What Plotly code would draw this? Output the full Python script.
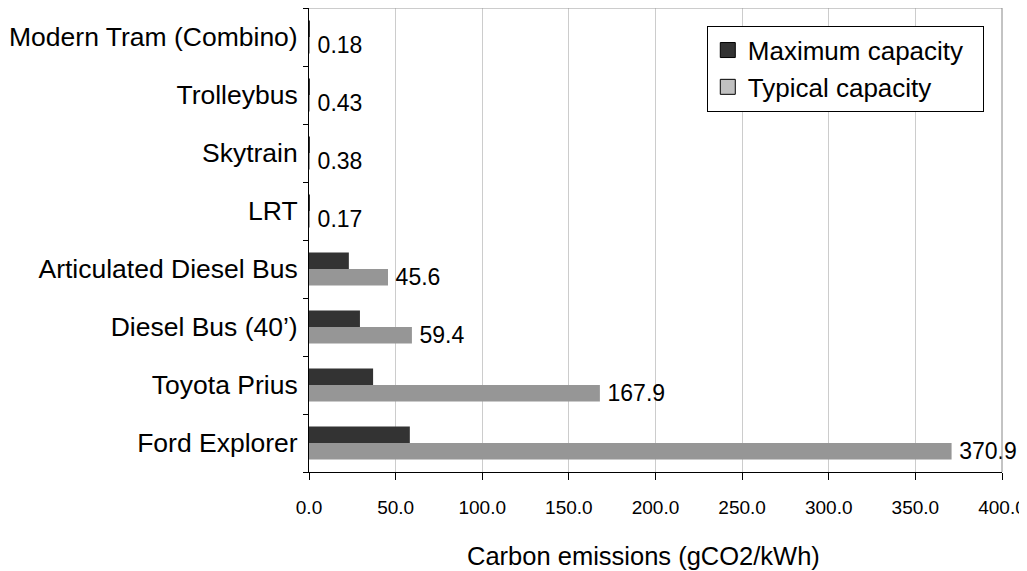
import plotly.graph_objects as go

# Categories listed top to bottom as in the chart
categories = [
    "Modern Tram (Combino)",
    "Trolleybus",
    "Skytrain",
    "LRT",
    "Articulated Diesel Bus",
    "Diesel Bus (40’)",
    "Toyota Prius",
    "Ford Explorer",
]
maximum_capacity = [0.05, 0.1, 0.09, 0.04, 23.0, 29.4, 37.0, 58.2]
typical_capacity = [0.18, 0.43, 0.38, 0.17, 45.6, 59.4, 167.9, 370.9]
x_ticks = [0, 50, 100, 150, 200, 250, 300, 350, 400]
x_tick_labels = [f"{v:.1f}" for v in x_ticks]

FONT = "Liberation Sans, Arial, sans-serif"
DARK = "#333333"
GREY = "#969696"

fig = go.Figure()

# Typical first so that it sits below the maximum bar in each group
fig.add_trace(go.Bar(
    y=categories, x=typical_capacity, orientation="h",
    name="Typical capacity", marker=dict(color=GREY, line=dict(width=0)),
    text=["\u2009" + f"{v:g}" for v in typical_capacity], textposition="outside",
    textfont=dict(family=FONT, size=23, color="black"),
    constraintext="none", cliponaxis=False, showlegend=False,
))
fig.add_trace(go.Bar(
    y=categories, x=maximum_capacity, orientation="h",
    name="Maximum capacity", marker=dict(color=DARK, line=dict(width=0)),
    showlegend=False,
))

# Legend entries
fig.add_trace(go.Scatter(
    x=[None], y=[None], mode="markers", name="Maximum capacity\u00a0\u00a0",
    marker=dict(symbol="square", size=15, color=DARK, line=dict(color="black", width=1)),
))
fig.add_trace(go.Scatter(
    x=[None], y=[None], mode="markers", name="Typical capacity",
    marker=dict(symbol="square", size=15, color="#c0c0c0", line=dict(color="black", width=1)),
))

# The page body adds an 8px offset, so the figure is sized to fit within the window
fig.update_layout(
    width=1019, height=563,
    margin=dict(l=301, r=25, t=0, b=99),
    paper_bgcolor="white", plot_bgcolor="white",
    barmode="group", bargap=0.43, bargroupgap=0,
    font=dict(family=FONT, size=26, color="black"),
    legend=dict(
        x=0.574, y=0.962, xanchor="left", yanchor="top",
        bgcolor="white", bordercolor="black", borderwidth=1,
        font=dict(family=FONT, size=26, color="black"),
        tracegroupgap=0, itemsizing="trace",
    ),
    xaxis=dict(
        range=[0, 400], tickvals=x_ticks, ticktext=x_tick_labels,
        showgrid=True, gridcolor="#cccccc", gridwidth=1,
        showline=True, linecolor="black", linewidth=1,
        ticks="outside", ticklen=7, tickcolor="black",
        tickfont=dict(family=FONT, size=19, color="black"),
        ticklabelstandoff=11, ticklabeloverflow="allow",
        zeroline=False, fixedrange=True, automargin=False,
    ),
    yaxis=dict(
        type="category", categoryorder="array", categoryarray=categories[::-1],
        showline=True, linecolor="black", linewidth=1,
        ticks="outside", ticklen=5, tickcolor="black", tickson="boundaries",
        tickfont=dict(family=FONT, size=26.5, color="black"),
        ticklabelstandoff=5,
        showgrid=False, zeroline=False, fixedrange=True,
        automargin=False,
    ),
    shapes=[
        dict(type="line", xref="paper", yref="paper", x0=0, x1=1, y0=1, y1=1,
             line=dict(color="#999999", width=1)),
        dict(type="line", xref="paper", yref="paper", x0=1, x1=1, y0=0, y1=1,
             line=dict(color="#888888", width=1)),
    ],
    annotations=[
        dict(text="Carbon emissions (gCO2/kWh)", xref="paper", yref="paper",
             x=0.482, y=-0.181, xanchor="center", yanchor="middle",
             showarrow=False, font=dict(family=FONT, size=25.5, color="black")),
    ],
)

fig.write_html("out.html")
